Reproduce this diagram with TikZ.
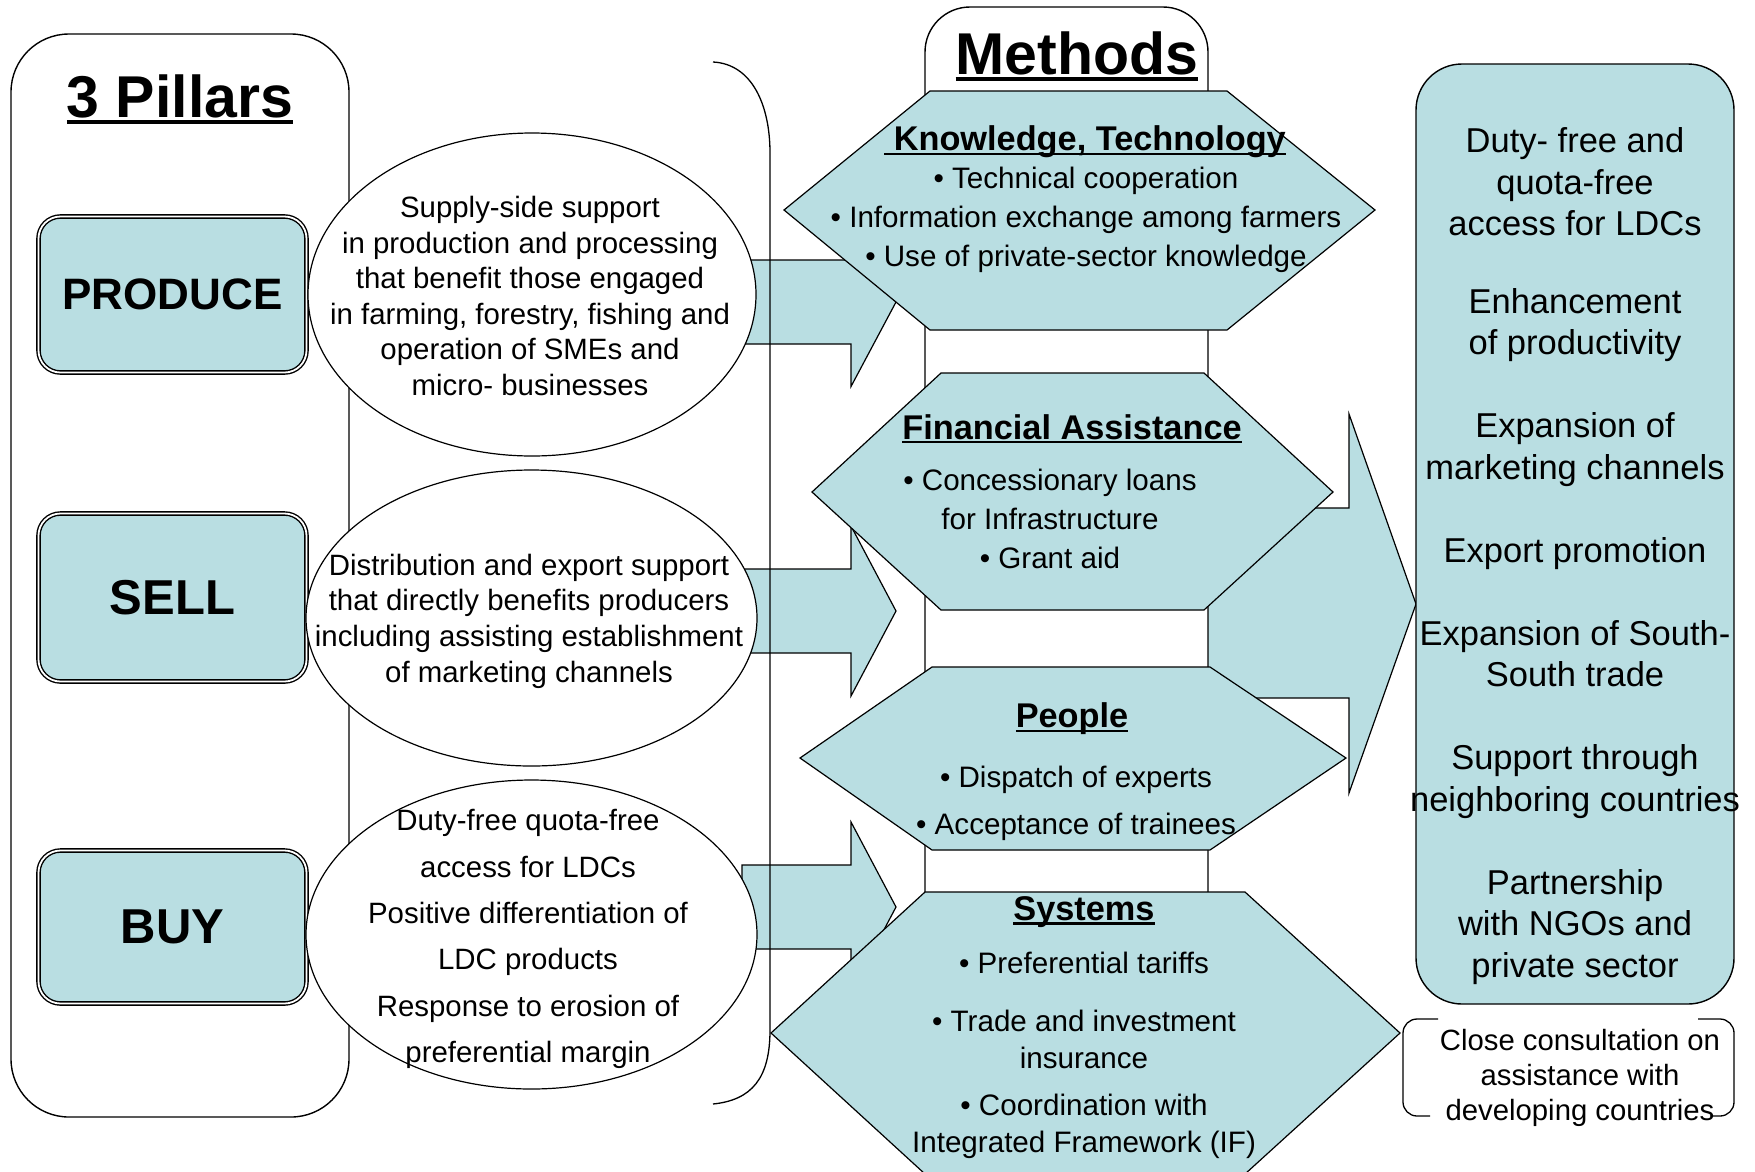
\documentclass[tikz,border=0pt]{standalone}
\usepackage{fontspec}
\setmainfont{Liberation Sans}
\usepackage{xcolor}
\usepackage{tikz}
\usetikzlibrary{shapes.geometric, positioning}
\definecolor{paleblue}{RGB}{185,222,226}
\newsavebox{\ulbox}
\newcommand{\undertext}[1]{\sbox{\ulbox}{#1}\rlap{\rule[-0.12em]{\wd\ulbox}{0.065em}}\usebox{\ulbox}}
\newcommand{\bigtitlefont}{\fontsize{59pt}{70pt}\selectfont\bfseries}
\newcommand{\hextitlefont}{\fontsize{34.3pt}{40pt}\selectfont\bfseries}
\newcommand{\pillarfont}[1]{\fontsize{#1}{#1}\selectfont\bfseries}
\newcommand{\ovalfont}[1]{\fontsize{29.4pt}{#1}\selectfont}
\newcommand{\listfont}[1]{\fontsize{29.6pt}{#1}\selectfont}
\tikzstyle{outerbox} = [rectangle, draw=black, line width=1.4pt, inner sep=0pt]
\tikzstyle{bigtitle} = [anchor=base, inner sep=0pt, font=\bigtitlefont]
\tikzstyle{pillar} = [rectangle, rounded corners=22pt, draw=black, line width=1.4pt, double=white, double distance=1.8pt, fill=paleblue, minimum width=268pt, inner sep=0pt]
\tikzstyle{oval} = [ellipse, draw=black, line width=1.2pt, fill=white, inner sep=0pt]
\tikzstyle{ovaltext} = [align=center, inner sep=0pt]
\tikzstyle{blockarrow} = [draw=black, line width=1.2pt, fill=paleblue, line join=miter]
\tikzstyle{bracketline} = [draw=black, line width=1.3pt]
\tikzstyle{hexbox} = [draw=black, line width=1.2pt, fill=paleblue]
\tikzstyle{hextitle} = [inner sep=0pt, font=\hextitlefont]
\tikzstyle{hexlist} = [align=center, inner sep=0pt]
\tikzstyle{outcome} = [rectangle, rounded corners=46pt, draw=black, line width=1.4pt, fill=paleblue, inner sep=0pt]
\tikzstyle{outcometext} = [align=center, inner sep=0pt, font=\fontsize{34.5pt}{41.5pt}\selectfont]
\tikzstyle{consulttext} = [align=center, inner sep=0pt, font=\fontsize{29.3pt}{35pt}\selectfont]

\begin{document}
\begin{tikzpicture}[x=1pt, y=-1pt]
	\useasboundingbox (0,0) rectangle (1755,1171);
	
	\node (pillarsbox) [outerbox, rounded corners=58pt, minimum width=338pt, minimum height=1083pt] at (180,575.5) {};
	\node (pillarstitle) [bigtitle] at (180,117) {\undertext{3 Pillars}};
	
	\node (produce) [pillar, minimum height=156pt, font=\pillarfont{44pt}] at (172.5,294.5) {PRODUCE};
	\node (sell) [pillar, minimum height=168pt, font=\pillarfont{49pt}] at (172.5,597.5) {SELL};
	\node (buy) [pillar, minimum height=153pt, font=\pillarfont{49pt}] at (172.5,927) {BUY};
	
	\draw [blockarrow] (742,260) -- (851,260) -- (851,217.5) -- (896,302) -- (851,386.5) -- (851,344) -- (742,344) -- cycle;
	\draw [blockarrow] (742,569) -- (851,569) -- (851,526) -- (896,611) -- (851,696) -- (851,653) -- (742,653) -- cycle;
	\draw [blockarrow] (742,865) -- (851,865) -- (851,822) -- (896,907) -- (851,992) -- (851,949) -- (742,949) -- cycle;
	
	\draw [bracketline] (713,62) .. controls (752,64) and (770,105) .. (770,153) -- (770,1030) .. controls (770,1078) and (752,1100) .. (713,1104);
	
	\node (supply) [oval, minimum width=448pt, minimum height=323pt] at (532,294.5) {};
	\node (supplytext) [ovaltext, font=\ovalfont{35.6pt}] at (530,296) {Supply-side support\\ in production and processing\\ that benefit those engaged\\ in farming, forestry, fishing and\\ operation of SMEs and\\ micro- businesses};
	
	\node (distribution) [oval, minimum width=451pt, minimum height=296pt] at (531.5,618) {};
	\node (distributiontext) [ovaltext, font=\ovalfont{35.6pt}] at (529,621) {Distribution and export support\\ that directly benefits producers\\ including assisting establishment\\ of marketing channels};
	
	\node (access) [oval, minimum width=451pt, minimum height=309pt] at (531.5,934.5) {};
	\node (accesstext) [ovaltext, font=\ovalfont{46.4pt}] at (528,939) {Duty-free quota-free\\ access for LDCs\\ Positive differentiation of\\ LDC products\\ Response to erosion of\\ preferential margin};
	
	\draw [blockarrow] (1150,508) -- (1349,508) -- (1349,414) -- (1416,604) -- (1349,793) -- (1349,698) -- (1150,698) -- cycle;
	
	\node (methodsbox) [outerbox, fill=white, rounded corners=45pt, minimum width=283pt, minimum height=1150pt] at (1066.5,582) {};
	\node (methodstitle) [bigtitle] at (1077,74) {\undertext{Methods}};
	
	\draw [hexbox] (930,91) -- (1227,91) -- (1375,210) -- (1227,330) -- (930,330) -- (784,210) -- cycle;
	\node (knowtitle) [hextitle] at (1085,142) {\undertext{\ Knowledge, Technology}};
	\node (knowlist) [hexlist, font=\listfont{39pt}] at (1086,220) {\textbullet\ Technical cooperation\\ \textbullet\ Information exchange among farmers\\ \textbullet\ Use of private-sector knowledge};
	
	\draw [hexbox] (941,373) -- (1204,373) -- (1333,492) -- (1204,610) -- (941,610) -- (812,492) -- cycle;
	\node (financetitle) [hextitle] at (1072,429) {\undertext{Financial Assistance}};
	\node (financelist) [hexlist, font=\listfont{39pt}] at (1050,519) {\textbullet\ Concessionary loans\\ for Infrastructure\\ \textbullet\ Grant aid};
	
	\draw [hexbox] (932,667) -- (1210,667) -- (1346,758) -- (1210,850) -- (932,850) -- (800,758) -- cycle;
	\node (peopletitle) [hextitle] at (1072,719) {\undertext{People}};
	\node (peoplelist) [hexlist, font=\listfont{47pt}] at (1076,803) {\textbullet\ Dispatch of experts\\ \textbullet\ Acceptance of trainees};
	
	\draw [hexbox] (925,892) -- (1245,892) -- (1400,1033) -- (1245,1174) -- (925,1174) -- (771,1033) -- cycle;
	\node (systemstitle) [hextitle] at (1084,912) {\undertext{Systems}};
	\node (systemslist) [hexlist, font=\listfont{36.5pt}] at (1084,1055) {\textbullet\ Preferential tariffs\\[22pt] \textbullet\ Trade and investment\\ insurance\\[11pt] \textbullet\ Coordination with\\ Integrated Framework (IF)};
	
	\node (outbox) [outcome, minimum width=318pt, minimum height=940pt] at (1575,534) {};
	\node (outtext) [outcometext] at (1575,556) {Duty- free and\\ quota-free\\ access for LDCs\\[36pt] Enhancement\\ of productivity\\[41.5pt] Expansion of\\ marketing channels\\[41.5pt] Export promotion\\[41.5pt] Expansion of South-\\ South trade\\[41.5pt] Support through\\ neighboring countries\\[41.5pt] Partnership\\ with NGOs and\\ private sector};
	
	\draw [bracketline, rounded corners=14pt] (1438,1019) -- (1403,1019) -- (1403,1116) -- (1430,1116);
	\draw [bracketline, rounded corners=14pt] (1698,1019) -- (1734,1019) -- (1734,1116) -- (1710,1116);
	\node (consult) [consulttext] at (1580,1078) {Close consultation on\\ assistance with\\ developing countries};
	
\end{tikzpicture}
\end{document}
